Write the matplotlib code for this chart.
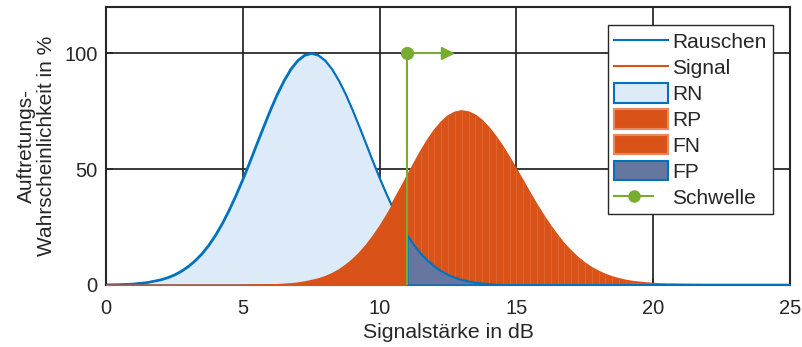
import matplotlib
matplotlib.use("Agg")
import matplotlib.pyplot as plt
import numpy as np
from matplotlib.legend_handler import HandlerLine2D
from matplotlib.lines import Line2D
from matplotlib.patches import Patch

# (dB, percent)
x_db = [0.0, 0.5, 1.0, 1.5,
        2.0, 2.25, 2.5, 2.75, 3.0, 3.25, 3.5, 3.75, 4.0, 4.25, 4.5, 4.75,
        5.0, 5.25, 5.5, 5.75, 6.0, 6.25, 6.5, 6.75, 7.0, 7.25, 7.5, 7.75,
        8.0, 8.25, 8.5, 8.75, 9.0, 9.25, 9.5, 9.75, 10.0, 10.25, 10.5, 10.75,
        11.0, 11.25, 11.5, 11.75, 12.0, 12.25, 12.5, 12.75, 13.0, 13.25, 13.5, 13.75,
        14.0, 14.25, 14.5, 14.75, 15.0, 15.25, 15.5, 15.75, 16.0, 16.25, 16.5, 16.75,
        17.0, 17.25, 17.5, 17.75, 18.0, 18.25, 18.5, 18.75, 19.0, 19.25, 19.5, 19.75,
        20.0, 20.25, 20.5, 20.75, 21.0,
        22.0, 23.0, 24.0, 25.0]

rauschen = [0.1, 0.2, 0.5, 1.1,
            2.3, 3.2, 4.4, 6.0, 8.0, 10.5, 13.5, 17.2, 21.6, 26.7, 32.5, 38.9,
            45.8, 53.1, 60.7, 68.2, 75.5, 82.3, 88.2, 93.2, 96.9, 99.2, 100.0, 99.2,
            96.9, 93.2, 88.2, 82.3, 75.5, 68.2, 60.7, 53.1, 45.8, 38.9, 32.5, 26.7,
            21.6, 17.2, 13.5, 10.5, 8.0, 6.0, 4.4, 3.2, 2.3, 1.6, 1.1, 0.8,
            0.5, 0.3, 0.2, 0.1, 0.1, 0.0, 0.0, 0.0, 0.0, 0.0, 0.0, 0.0,
            0.0, 0.0, 0.0, 0.0, 0.0, 0.0, 0.0, 0.0, 0.0, 0.0, 0.0, 0.0,
            0.0, 0.0, 0.0, 0.0, 0.0,
            0.0, 0.0, 0.0, 0.0]

signal = [0.0, 0.0, 0.0, 0.0,
          0.0, 0.0, 0.0, 0.0, 0.0, 0.0, 0.0, 0.0, 0.0, 0.0, 0.0, 0.0,
          0.0, 0.1, 0.1, 0.1, 0.2, 0.3, 0.5, 0.7, 1.0, 1.5, 2.1, 2.8,
          3.8, 5.1, 6.7, 8.8, 11.2, 14.1, 17.5, 21.4, 25.7, 30.5, 35.7, 41.1,
          46.6, 52.1, 57.4, 62.3, 66.6, 70.1, 72.8, 74.4, 75.0, 74.5, 73.1, 70.8,
          67.6, 63.8, 59.5, 54.7, 49.6, 44.5, 39.3, 34.3, 29.6, 25.2, 21.2, 17.5,
          14.4, 11.6, 9.3, 7.3, 5.7, 4.4, 3.3, 2.5, 1.8, 1.3, 1.0, 0.7,
          0.5, 0.3, 0.2, 0.2, 0.1,
          0.0, 0.0, 0.0, 0.0]

schwelle = 11.0
schwelle_hoehe = 100.0
pfeil_ende = 12.45

BLUE = "#0072BD"
ORANGE = "#D95319"
ORANGE_EDGE = "#E9875D"
LIGHT = "#DDEAF8"
FP_COLOR = "#6577A0"
GREEN = "#77AC30"
TEXT = "#262626"


class EndMarkerHandler(HandlerLine2D):
    # line with the marker near its right end, as in the original legend
    def get_xdata(self, legend, xdescent, ydescent, width, height, fontsize):
        xdata, _ = super().get_xdata(legend, xdescent, ydescent, width, height, fontsize)
        end = xdescent + width * 0.72
        return np.array([xdata[0], end]), np.array([end])


plt.rcParams["font.family"] = ["Liberation Sans", "DejaVu Sans"]

x = np.array(x_db)
noise = np.array(rauschen)
sig = np.array(signal)
left = x <= schwelle
right = x >= schwelle

fig = plt.figure(figsize=(8.03, 3.47), dpi=100)
ax = fig.add_axes([0.132, 0.179, 0.852, 0.801])

ax.plot(x, noise, color=BLUE, lw=1.5, zorder=2)
ax.plot(x, sig, color=ORANGE, lw=1.5, zorder=2)

ax.fill_between(x[left], 0, noise[left], facecolor=LIGHT, edgecolor=BLUE, lw=1.5, zorder=3)
ax.fill_between(x[left], 0, sig[left], facecolor=ORANGE, edgecolor=ORANGE, lw=1.0, zorder=4)
ax.fill_between(x[right], 0, sig[right], facecolor=ORANGE, edgecolor=ORANGE, lw=1.0, zorder=4)
# light streaks like the rendered original
ax.vlines(x[right], 0, sig[right], color="#EE9A74", lw=0.6, alpha=0.3, zorder=4.5)
ax.fill_between(x[right], 0, noise[right], facecolor=FP_COLOR, edgecolor=BLUE, lw=1.5, zorder=5)

ax.plot([schwelle, schwelle], [0, schwelle_hoehe], color=GREEN, lw=1.5, zorder=6)
ax.plot([schwelle, pfeil_ende], [schwelle_hoehe, schwelle_hoehe], color=GREEN, lw=1.5, zorder=6)
ax.plot([schwelle], [schwelle_hoehe], "o", color=GREEN, ms=8.5, zorder=7)
ax.plot([pfeil_ende], [schwelle_hoehe], ">", color=GREEN, ms=8, zorder=7)

ax.set_xlim(0, 25)
ax.set_ylim(0, 120)
ax.set_xticks([0, 5, 10, 15, 20, 25])
ax.set_yticks([0, 50, 100])
ax.tick_params(direction="in", length=5, width=1.2, labelsize=14.5, colors=TEXT)
ax.tick_params(axis="x", pad=10)
ax.tick_params(axis="y", pad=6)
ax.grid(True, color="#2a2a2a", lw=1.3)
ax.set_axisbelow(True)
for spine in ax.spines.values():
    spine.set_linewidth(1.5)
    spine.set_color(TEXT)

ax.set_xlabel("Signalstärke in dB", fontsize=15.3, color=TEXT, labelpad=4)
ax.set_ylabel("Auftretungs-\nWahrscheinlichkeit in %", fontsize=15, color=TEXT,
              labelpad=6, linespacing=1.05)

handles = [
    Line2D([], [], color=BLUE, lw=1.5),
    Line2D([], [], color=ORANGE, lw=1.5),
    Patch(facecolor=LIGHT, edgecolor=BLUE, lw=1.5),
    Patch(facecolor=ORANGE, edgecolor=ORANGE_EDGE, lw=1.5),
    Patch(facecolor=ORANGE, edgecolor=ORANGE_EDGE, lw=1.5),
    Patch(facecolor=FP_COLOR, edgecolor=BLUE, lw=1.5),
    Line2D([], [], color=GREEN, lw=1.5, marker="o", ms=8),
]
labels = ["Rauschen", "Signal", "RN", "RP", "FN", "FP", "Schwelle"]
leg = ax.legend(handles, labels, loc="upper right", bbox_to_anchor=(0.975, 0.935),
                fontsize=15, frameon=True, fancybox=False, framealpha=1,
                edgecolor=TEXT, handlelength=2.6, handleheight=1.05,
                handletextpad=0.2, labelspacing=0.25, borderpad=0.3, borderaxespad=0,
                handler_map={handles[-1]: EndMarkerHandler(numpoints=1)})
leg.get_frame().set_linewidth(1.0)
leg.set_zorder(10)
for text in leg.get_texts():
    text.set_color(TEXT)

fig.savefig("out.png", dpi=100)
